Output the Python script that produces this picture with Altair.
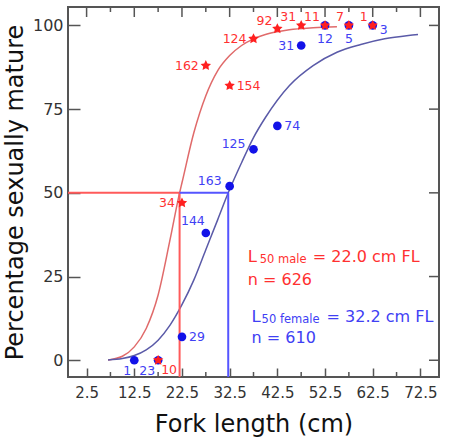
import altair as alt
import pandas as pd

# Length classes (cm FL), percentage mature and sample size per class
male_length = [17.5, 22.5, 27.5, 32.5, 37.5, 42.5, 47.5, 52.5, 57.5, 62.5]
male_mature = [0, 47, 88, 82, 96, 99, 100, 100, 100, 100]
male_count = [10, 34, 162, 154, 124, 92, 31, 11, 7, 1]

female_length = [12.5, 17.5, 22.5, 27.5, 32.5, 37.5, 42.5, 47.5, 52.5, 57.5, 62.5]
female_mature = [0, 0, 7, 38, 52, 63, 70, 94, 100, 100, 100]
female_count = [1, 23, 29, 144, 163, 125, 74, 31, 12, 5, 3]

# Fitted maturity ogives
male_curve_x = [7, 10, 12.5, 15, 17.5, 20, 22, 22.5, 25, 27.5, 30, 32.5, 35, 37.5, 40, 45, 50, 55]
male_curve_y = [0.1, 1.2, 4.0, 9.5, 19.5, 36, 50, 53, 68, 79, 86.5, 91, 94, 96, 97.3, 98.7, 99.3, 99.6]
female_curve_x = [7, 10, 12.5, 15, 17.5, 20, 22.5, 25, 27.5, 30, 32.2, 35, 37.5, 40, 45, 50, 55, 60, 65, 70, 72]
female_curve_y = [0.1, 0.5, 1.4, 3.1, 6.0, 10.5, 16.6, 24, 33, 42, 50, 59, 66.5, 72.5, 82, 88, 92, 94.3, 96, 97, 97.3]

l50_male = 22.0
l50_female = 32.2

# Where each count label sits relative to its point
male_label_side = ["below-right", "left", "left", "right", "left",
                   "upper-left", "upper-left", "upper-left", "upper-left", "upper-left"]
female_label_side = ["below-left", "below-left", "right", "above", "left-up", "left-up",
                     "right", "left", "below", "below", "lower-right"]
SIDES = {
    "left": dict(align="right", dx=-7, dy=0),
    "right": dict(align="left", dx=7, dy=0),
    "upper-left": dict(align="right", dx=-5, dy=-8),
    "left-up": dict(align="right", dx=-8, dy=-5),
    "above": dict(align="right", dx=-1, dy=-12),
    "below": dict(align="center", dx=0, dy=14),
    "below-left": dict(align="right", dx=-3, dy=11),
    "below-right": dict(align="left", dx=3, dy=10),
    "lower-right": dict(align="left", dx=7, dy=5),
}

# Five-pointed star in the unit square used by Vega symbol paths
STAR = ("M0,-1L0.294,-0.405L0.951,-0.309L0.476,0.155L0.588,0.809L0,0.5"
        "L-0.588,0.809L-0.476,0.155L-0.951,-0.309L-0.294,-0.405Z")

RED = "#ff2020"
RED_TEXT = "#ff3030"
RED_CURVE = "#e06a6a"
RED_REF = "#ff5a5a"
BLUE = "#1212e8"
BLUE_TEXT = "#4040f4"
BLUE_CURVE = "#5a5aa8"
BLUE_REF = "#5555ff"
FRAME = "#555555"
FONT = "DejaVu Sans"

W, H = 371, 370
X_MIN, X_MAX = -1.4, 76.4
Y_MIN, Y_MAX = -5, 105.5
xs = alt.Scale(domain=[X_MIN, X_MAX], nice=False, zero=False)
ys = alt.Scale(domain=[Y_MIN, Y_MAX], nice=False, zero=False)

major_x = [2.5 + 10 * i for i in range(8)]
minor_x = [7.5 + 10 * i for i in range(7)]
major_y = [0, 25, 50, 75, 100]

male = pd.DataFrame({"len": male_length, "pct": male_mature,
                     "n": [str(c) for c in male_count], "side": male_label_side})
female = pd.DataFrame({"len": female_length, "pct": female_mature,
                       "n": [str(c) for c in female_count], "side": female_label_side})
curves = pd.concat([
    pd.DataFrame({"len": male_curve_x, "pct": male_curve_y, "sex": "male"}),
    pd.DataFrame({"len": female_curve_x, "pct": female_curve_y, "sex": "female"}),
], ignore_index=True)
refs = pd.DataFrame({
    "x": [X_MIN, l50_male, l50_male, l50_female],
    "x2": [l50_male, l50_male, l50_female, l50_female],
    "y": [50, 50, 50, 50],
    "y2": [50, Y_MIN, 50, Y_MIN],
    "c": [RED_REF, RED_REF, BLUE_REF, BLUE_REF],
})

# Curves carry the labelled bottom and left axes (ticks point inward)
curve_layer = alt.Chart(curves).mark_line(strokeWidth=1.5, interpolate="monotone").encode(
    x=alt.X("len:Q", scale=xs, axis=alt.Axis(
        orient="bottom", values=major_x, format=".1f", tickSize=9, offset=-9,
        domain=False, grid=False, tickColor=FRAME, tickWidth=1.5,
        labelPadding=8, labelFontSize=15, labelColor="#333", labelFont=FONT,
        title="Fork length (cm)", titleFontSize=24, titleFont=FONT, titleColor="#111",
        titleFontWeight="normal", titlePadding=12)),
    y=alt.Y("pct:Q", scale=ys, axis=alt.Axis(
        orient="left", values=major_y, tickSize=12, offset=-12,
        domain=False, grid=False, tickColor=FRAME, tickWidth=1.5,
        labelPadding=5, labelFontSize=16, labelColor="#333", labelFont=FONT,
        title="Percentage sexually mature", titleFontSize=24, titleFont=FONT,
        titleColor="#111", titleFontWeight="normal", titlePadding=5)),
    color=alt.Color("sex:N", scale=alt.Scale(domain=["male", "female"],
                                             range=[RED_CURVE, BLUE_CURVE]), legend=None),
)


def x_ticks(values, top, length):
    """Short inward ticks along the top or bottom edge of the frame."""
    y0 = 0 if top else H
    y1 = length if top else H - length
    return alt.Chart(pd.DataFrame({"v": values})).mark_rule(
        color=FRAME, strokeWidth=1.5).encode(
        x=alt.X("v:Q", scale=xs), y=alt.value(y0), y2=alt.value(y1))


def y_ticks(values, length):
    """Inward ticks along the right edge of the frame."""
    return alt.Chart(pd.DataFrame({"v": values})).mark_rule(
        color=FRAME, strokeWidth=1.5).encode(
        y=alt.Y("v:Q", scale=ys), x=alt.value(W), x2=alt.value(W - length))


ticks = [
    x_ticks(minor_x, top=False, length=5),
    x_ticks(major_x, top=True, length=10),
    x_ticks(minor_x, top=True, length=5),
    y_ticks(major_y, length=10),
]

# L50 guide lines
ref_layer = alt.Chart(refs).mark_rule(strokeWidth=2).encode(
    x=alt.X("x:Q", scale=xs), x2="x2:Q",
    y=alt.Y("y:Q", scale=ys), y2="y2:Q",
    color=alt.Color("c:N", scale=None),
)

female_pts = alt.Chart(female).mark_point(
    shape="circle", filled=True, size=75, color=BLUE, opacity=1).encode(
    x=alt.X("len:Q", scale=xs), y=alt.Y("pct:Q", scale=ys))

male_pts = alt.Chart(male).mark_point(
    shape=STAR, filled=True, size=120, color=RED, opacity=1).encode(
    x=alt.X("len:Q", scale=xs), y=alt.Y("pct:Q", scale=ys))


def count_labels(df, color):
    layers = []
    for side, opts in SIDES.items():
        sub = df[df["side"] == side]
        if sub.empty:
            continue
        layers.append(alt.Chart(sub).mark_text(
            baseline="middle", fontSize=12.5, font=FONT, color=color, **opts).encode(
            x=alt.X("len:Q", scale=xs), y=alt.Y("pct:Q", scale=ys), text="n:N"))
    return layers


def note(x, y, text, color, size, dx=0, dy=0):
    return alt.Chart(pd.DataFrame({"x": [x], "y": [y], "t": [text]})).mark_text(
        align="left", baseline="middle", fontSize=size, font=FONT, color=color,
        dx=dx, dy=dy).encode(
        x=alt.X("x:Q", scale=xs), y=alt.Y("y:Q", scale=ys), text="t:N")


n_male = sum(male_count)
n_female = sum(female_count)
notes = [
    note(36.3, 30.7, "L", RED_TEXT, 16.5),
    note(36.3, 30.7, "50 male", RED_TEXT, 11.5, dx=12, dy=3),
    note(36.3, 30.7, f"= {l50_male:.1f} cm FL", RED_TEXT, 16, dx=65),
    note(36.3, 23.9, f"n = {n_male}", RED_TEXT, 16),
    note(37.1, 12.9, "L", BLUE_TEXT, 16.5),
    note(37.1, 12.9, "50 female", BLUE_TEXT, 11.5, dx=10, dy=3),
    note(37.1, 12.9, f"= {l50_female:.1f} cm FL", BLUE_TEXT, 16, dx=75),
    note(37.1, 6.5, f"n = {n_female}", BLUE_TEXT, 16),
]

chart = alt.layer(
    curve_layer, *ticks, ref_layer, female_pts, male_pts,
    *count_labels(female, BLUE_TEXT), *count_labels(male, RED_TEXT), *notes,
).properties(
    width=W, height=H,
    padding={"left": 68, "top": 7, "right": 11, "bottom": 61},
    autosize=alt.AutoSizeParams(type="none"),
    background="white",
).configure_view(stroke=FRAME, strokeWidth=2)

chart.save("out.html", embed_options={"renderer": "svg", "actions": False})
